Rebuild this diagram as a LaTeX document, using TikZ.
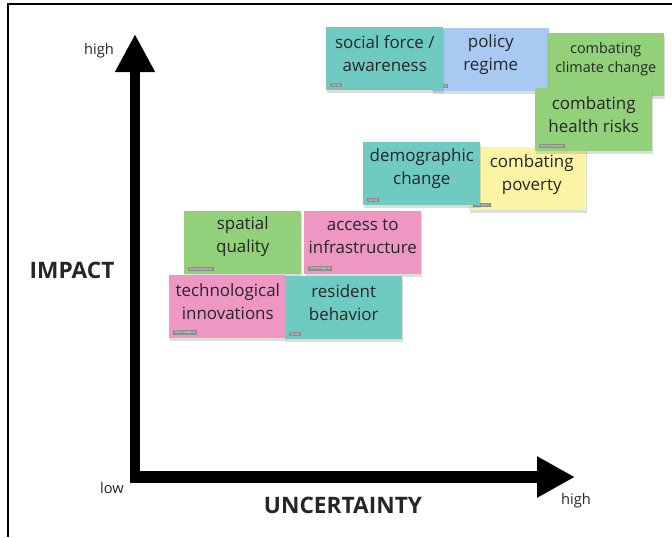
\documentclass[tikz,border=0pt]{standalone}
\usepackage{fontspec}
\setmainfont{Open Sans}
\usepackage{tikz}
\usetikzlibrary{arrows.meta}
\usetikzlibrary{shadows}
\usepackage{xcolor}

\definecolor{noteteal}{HTML}{6FCBC2}
\definecolor{noteblue}{HTML}{A7C9F2}
\definecolor{notegreen}{HTML}{93D07A}
\definecolor{noteyellow}{HTML}{FBF4A4}
\definecolor{notepink}{HTML}{EE97C2}
\definecolor{taggray}{HTML}{8C8C8C}
\definecolor{inkgray}{HTML}{262626}

\begin{document}
\begin{tikzpicture}[x=0.75pt,y=-0.75pt,
  sticky/.style={rectangle, inner sep=0pt, anchor=north west, minimum width=87.75pt, minimum height=47.25pt,
    drop shadow={shadow xshift=0.8pt, shadow yshift=-2pt, opacity=0.22, fill=black!60}},
  notetext/.style={align=center, text=inkgray, font=\fontsize{12.7}{17.25}\selectfont},
  smalltext/.style={align=center, text=inkgray, font=\fontsize{10.8}{14.5}\selectfont},
  tag/.style={fill=taggray, text=white!90!gray, anchor=south west, inner xsep=1pt, inner ysep=0.8pt,
    font=\fontsize{2.5}{3}\selectfont},
  axisline/.style={line cap=butt, black},
  axislabel/.style={text=inkgray, font=\fontsize{11}{13}\selectfont},
  axistitle/.style={text=black!85, font=\bfseries\fontsize{17}{19}\selectfont}]

\useasboundingbox (0,0) rectangle (672,537);

%frame
\draw[line width=1.5pt] (8,537)--(8,4)--(672,4);

%the two axes
\draw[axisline, line width=7.5pt, -{Triangle[length=28.5pt, width=28pt]}] (135,483)--(135,34);
\draw[axisline, line width=9pt, -{Triangle[length=28.5pt, width=29pt]}] (130,477)--(575,477);

\node[axislabel] (imphigh) at (99,51) {high};
\node[axislabel] (unclow) at (112,488) {low};
\node[axislabel] (unchigh) at (576,501) {high};

\node[axistitle] (impact) at (72,270) {IMPACT};
\node[axistitle] (uncertainty) at (343,505) {UNCERTAINTY};

%sticky notes, top row
\node[sticky, fill=noteblue] (policy) at (432,28) {};
\node[notetext] at ([yshift=3.75pt]policy.center) {policy\\regime};
\node[tag] at ([xshift=3pt,yshift=2.25pt]policy.south west) {Social};

\node[sticky, fill=noteteal] (social) at (326,27) {};
\node[notetext] at ([yshift=3.75pt]social.center) {social force /\\awareness};
\node[tag] at ([xshift=3pt,yshift=2.25pt]social.south west) {Social};

\node[sticky, fill=notegreen] (climate) at (547,33) {};
\node[smalltext] at ([yshift=4pt]climate.center) {combating\\climate change};
\node[tag] at ([xshift=3pt,yshift=2.25pt]climate.south west) {Environmental};

%middle
\node[sticky, fill=noteyellow] (poverty) at (469,147) {};
\node[notetext] at ([xshift=3pt,yshift=3.5pt]poverty.center) {combating\\poverty};
\node[tag] at ([xshift=3pt,yshift=2.25pt]poverty.south west) {Economic};

\node[sticky, fill=noteteal] (demographic) at (363,142) {};
\node[notetext] at ([yshift=4pt]demographic.center) {demographic\\change};
\node[tag] at ([xshift=3pt,yshift=2.25pt]demographic.south west) {Social};

\node[sticky, fill=notegreen] (health) at (535,88) {};
\node[notetext] at ([yshift=4pt]health.center) {combating\\health risks};
\node[tag] at ([xshift=3pt,yshift=2.25pt]health.south west) {Environmental};

%lower block
\node[sticky, fill=notegreen] (spatial) at (184,211) {};
\node[notetext] at ([yshift=4.5pt]spatial.center) {spatial\\quality};
\node[tag] at ([xshift=3pt,yshift=2.25pt]spatial.south west) {Environmental};

\node[sticky, fill=notepink] (access) at (304,211) {};
\node[notetext] at ([yshift=4.5pt]access.center) {access to\\infrastructure};
\node[tag] at ([xshift=3pt,yshift=2.25pt]access.south west) {Technological};

\node[sticky, fill=notepink] (techno) at (169,275) {};
\node[notetext] at ([yshift=3.75pt]techno.center) {technological\\innovations};
\node[tag] at ([xshift=3pt,yshift=2.25pt]techno.south west) {Technological};

\node[sticky, fill=noteteal] (resident) at (285,276) {};
\node[notetext] at ([yshift=3.75pt]resident.center) {resident\\behavior};
\node[tag] at ([xshift=3pt,yshift=2.25pt]resident.south west) {Social};

\end{tikzpicture}
\end{document}
